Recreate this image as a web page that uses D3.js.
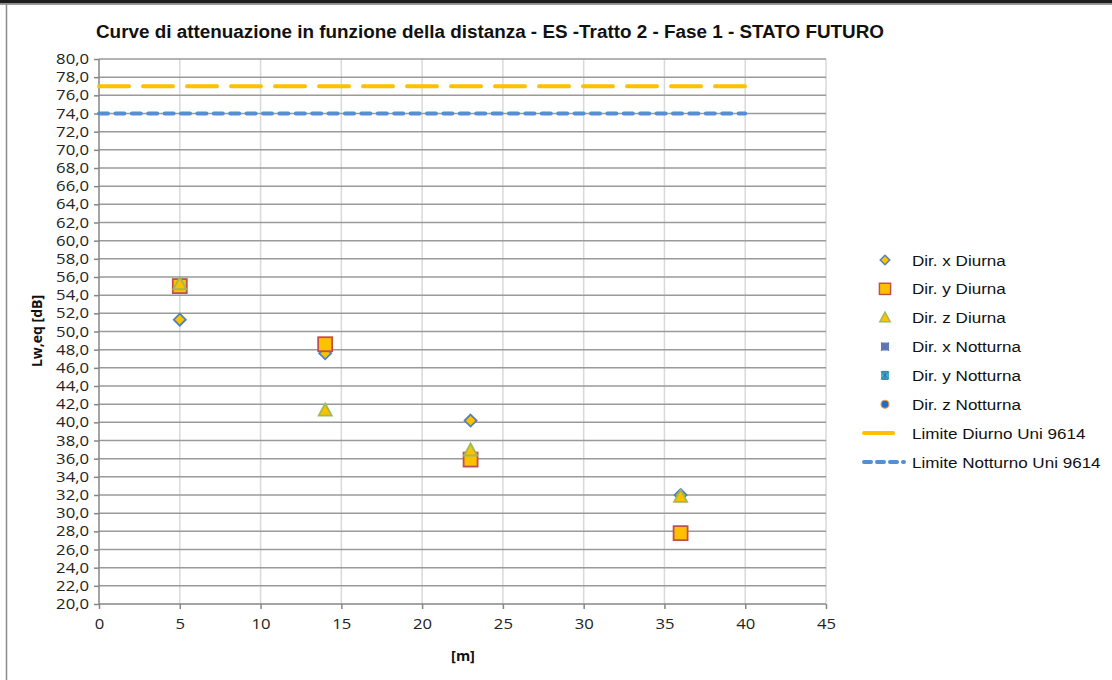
<!DOCTYPE html>
<html><head><meta charset="utf-8">
<script src="https://cdn.jsdelivr.net/npm/d3@7/dist/d3.min.js"></script>
<style>body{margin:0;background:#fff}svg{display:block}</style>
</head><body>
<svg id="c" width="1112" height="680"></svg>
<script>
const title = "Curve di attenuazione in funzione della distanza - ES -Tratto 2 - Fase 1 - STATO FUTURO";
const xTicks = [0,5,10,15,20,25,30,35,40,45];
const yTicks = d3.range(20, 80.1, 2);
const distances = [5, 14, 23, 36];
const dirXDiurna = [51.3, 47.6, 40.2, 32.0];
const dirYDiurna = [55.0, 48.6, 35.9, 27.8];
const dirZDiurna = [55.2, 41.3, 36.9, 31.8];
const dirXNotturna = [];
const dirYNotturna = [];
const dirZNotturna = [];
const limiteX = [0, 40];
const limiteDiurno = [77, 77];
const limiteNotturno = [74, 74];
const legendLabels = ["Dir. x Diurna","Dir. y Diurna","Dir. z Diurna","Dir. x Notturna","Dir. y Notturna","Dir. z Notturna","Limite Diurno Uni 9614","Limite Notturno Uni 9614"];

const svg = d3.select("#c");
const x = d3.scaleLinear().domain([0,45]).range([99,826]);
const y = d3.scaleLinear().domain([20,80]).range([604,59]);

function stretch(sel, f){
  sel.each(function(){ const n=this; const w=n.getComputedTextLength(); n.setAttribute("textLength", (w*f).toFixed(2)); n.setAttribute("lengthAdjust","spacingAndGlyphs"); });
}

// frame
svg.append("rect").attr("x",0).attr("y",0).attr("width",1112).attr("height",3.5).attr("fill","#1e1e1e");
svg.append("line").attr("x1",0).attr("x2",1112).attr("y1",4.5).attr("y2",4.5).attr("stroke","#9a9a9a").attr("stroke-width",1);
svg.append("line").attr("x1",6.5).attr("x2",6.5).attr("y1",4).attr("y2",680).attr("stroke","#8a8a8a").attr("stroke-width",1.5);

// gridlines
svg.append("g").selectAll("line").data(xTicks.slice(1)).join("line")
  .attr("x1",d=>x(d)).attr("x2",d=>x(d)).attr("y1",y(80)).attr("y2",y(20))
  .attr("stroke","#d9d9d9").attr("stroke-width",1.5);
svg.append("g").selectAll("line").data(yTicks.slice(1)).join("line")
  .attr("x1",x(0)).attr("x2",x(45)).attr("y1",d=>y(d)).attr("y2",d=>y(d))
  .attr("stroke","#9a9a9a").attr("stroke-width",1.5);

// axes
const fmt = d => d.toFixed(1).replace(".", ",");
const yAxis = svg.append("g").attr("transform",`translate(${x(0)},0)`)
  .call(d3.axisLeft(y).tickValues(yTicks).tickFormat(fmt).tickSize(5).tickPadding(5));
const xAxis = svg.append("g").attr("transform",`translate(0,${y(20)})`)
  .call(d3.axisBottom(x).tickValues(xTicks).tickFormat(d=>d).tickSize(5).tickPadding(10));
[yAxis,xAxis].forEach(a=>{
  a.select(".domain").attr("stroke","#868686").attr("stroke-width",1.5);
  a.selectAll(".tick line").attr("stroke","#868686").attr("stroke-width",1.5);
  a.selectAll("text").attr("fill","#222").style("font-family","'Open Sans', sans-serif").style("font-size","14.5px");
  stretch(a.selectAll("text"), 1.15);
});
xAxis.select(".domain").attr("d",`M${x(0)},0H${x(45)}`);
yAxis.select(".domain").attr("d",`M0,${y(80)}V${y(20)}`);

// limit lines
const line = d3.line().x((d,i)=>x(limiteX[i])).y(d=>y(d));
svg.append("path").datum(limiteDiurno).attr("d",line).attr("fill","none")
  .attr("stroke","#FFC000").attr("stroke-width",4).attr("stroke-dasharray","30,14").attr("stroke-linecap","round");
svg.append("path").datum(limiteNotturno).attr("d",line).attr("fill","none")
  .attr("stroke","#558ED5").attr("stroke-width",4).attr("stroke-dasharray","9,7.4").attr("stroke-linecap","round");

// markers
function diamond(g, cx, cy){ g.append("path").attr("d",`M${cx},${cy-6}L${cx+6},${cy}L${cx},${cy+6}L${cx-6},${cy}Z`).attr("fill","#FFC000").attr("stroke","#4F81BD").attr("stroke-width",1.8); }
function square(g, cx, cy){ g.append("rect").attr("x",cx-7).attr("y",cy-7).attr("width",14).attr("height",14).attr("fill","#FFC000").attr("stroke","#C0504D").attr("stroke-width",1.8); }
function triangle(g, cx, cy){ g.append("path").attr("d",`M${cx},${cy-7}L${cx+6.5},${cy+5}L${cx-6.5},${cy+5}Z`).attr("fill","#FFC000").attr("stroke","#9BBB59").attr("stroke-width",1.8); }
function sqX(g,cx,cy){ g.append("rect").attr("x",cx-5).attr("y",cy-5).attr("width",10).attr("height",10).attr("fill","#4F81BD");
  g.append("path").attr("d",`M${cx-5},${cy-5}L${cx+5},${cy+5}M${cx+5},${cy-5}L${cx-5},${cy+5}`).attr("stroke","#8064A2").attr("stroke-width",1.3); }
function sqStar(g,cx,cy){ g.append("rect").attr("x",cx-5).attr("y",cy-5).attr("width",10).attr("height",10).attr("fill","#4BACC6");
  g.append("path").attr("d",`M${cx-5},${cy-5}L${cx+5},${cy+5}M${cx+5},${cy-5}L${cx-5},${cy+5}M${cx},${cy-5}V${cy+5}M${cx-4},${cy-5}H${cx+4}M${cx-4},${cy+5}H${cx+4}`).attr("stroke","#1F6FA8").attr("stroke-width",1.1); }
function circ(g,cx,cy){ g.append("circle").attr("cx",cx).attr("cy",cy).attr("r",5).attr("fill","#1F6FC0").attr("stroke","#F79646").attr("stroke-width",1.5); }

const series = [
  {vals:dirXDiurna, draw:diamond},
  {vals:dirYDiurna, draw:square},
  {vals:dirZDiurna, draw:triangle},
  {vals:dirXNotturna, draw:sqX},
  {vals:dirYNotturna, draw:sqStar},
  {vals:dirZNotturna, draw:circ}
];
const pts = svg.append("g");
series.forEach(s=>{ s.vals.forEach((v,i)=> s.draw(pts, x(distances[i]), y(v))); });

// legend
const lg = svg.append("g");
legendLabels.forEach((lab,i)=>{
  const cy = 260 + i*28.85;
  if (i<6) {
    const mg = lg.append("g").attr("transform",`translate(885,${cy}) scale(0.8) translate(-885,${-cy})`);
    series[i].draw(mg, 885, cy);
  }
  else if (i===6) lg.append("line").attr("x1",864).attr("x2",893).attr("y1",cy).attr("y2",cy).attr("stroke","#FFC000").attr("stroke-width",4).attr("stroke-linecap","round");
  else lg.append("line").attr("x1",864).attr("x2",904).attr("y1",cy).attr("y2",cy).attr("stroke","#558ED5").attr("stroke-width",4).attr("stroke-dasharray","7,6").attr("stroke-linecap","round");
  const tx = lg.append("text").attr("x",912).attr("y",cy).attr("dy","0.36em").text(lab)
    .style("font-family","'Liberation Sans', Arial, sans-serif").style("font-size","15.5px").attr("fill","#111");
  stretch(tx, 1.1);
});

// titles
const t = svg.append("text").attr("x",96).attr("y",38).text(title)
  .style("font-family","'Liberation Sans', Arial, sans-serif").style("font-weight","bold").style("font-size","17px").attr("fill","#111");
const w = t.node().getComputedTextLength();
t.style("font-size", (17*788/w).toFixed(2)+"px");
const yt = svg.append("text").attr("transform",`translate(42,331) rotate(-90)`).attr("text-anchor","middle").text("Lw,eq [dB]")
  .style("font-family","'Open Sans', sans-serif").style("font-weight","bold").style("font-size","14px").attr("fill","#111");
const xt = svg.append("text").attr("x",463).attr("y",661).attr("text-anchor","middle").text("[m]")
  .style("font-family","'Open Sans', sans-serif").style("font-weight","bold").style("font-size","14.5px").attr("fill","#111");
</script>
</body></html>
